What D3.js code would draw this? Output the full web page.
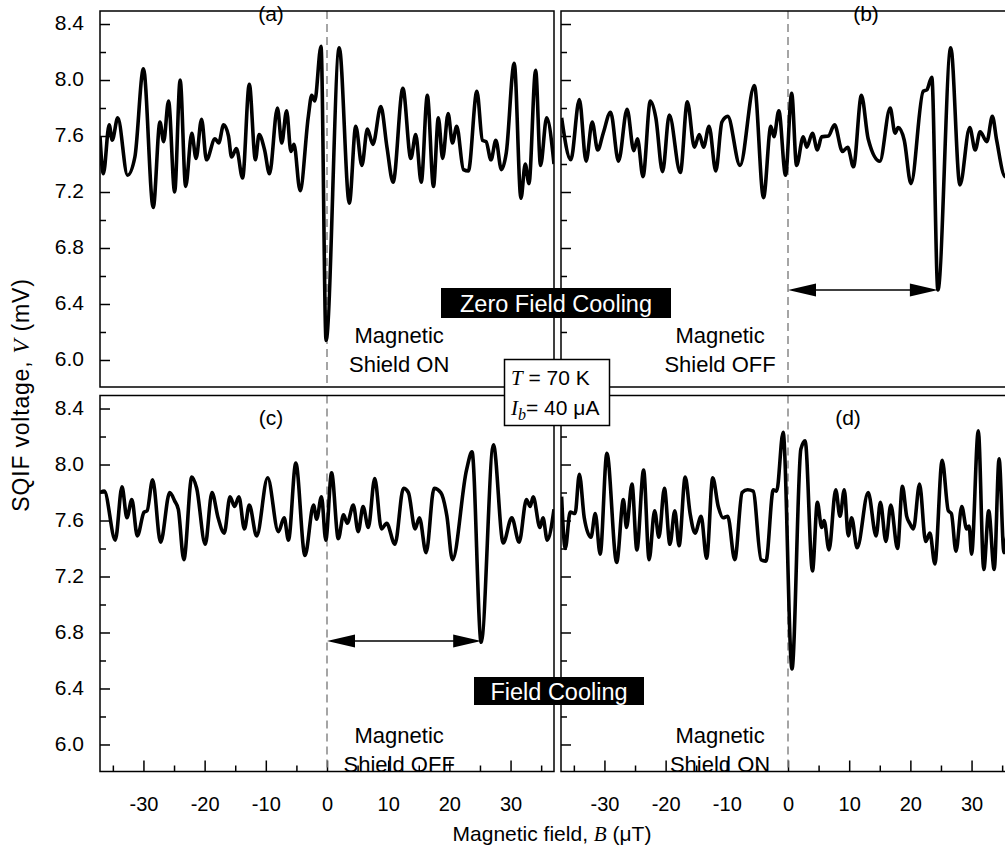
<!DOCTYPE html>
<html>
<head>
<meta charset="utf-8">
<script src="https://cdn.jsdelivr.net/npm/d3@7"></script>
<style>
body { margin: 0; background: #fff; }
text { font-family: "Liberation Sans", Arial, sans-serif; fill: #000; }
</style>
</head>
<body>
<div id="chart"></div>
<script>
// SQIF voltage traces, [B (uT), V (mV)]
var curveA = [[-37.1,7.60],[-36.55,7.33],[-35.6,7.68],[-35.1,7.57],[-34.2,7.73],[-32.6,7.32],[-31.4,7.45],[-30.0,8.08],[-28.4,7.09],
    [-27.3,7.70],[-26.7,7.56],[-25.9,7.85],[-24.9,7.20],[-24.0,8.00],[-23.1,7.24],[-22.1,7.62],[-21.4,7.44],[-20.5,7.72],[-19.7,7.43],
    [-18.3,7.58],[-17.7,7.55],[-16.9,7.68],[-16.1,7.60],[-15.6,7.45],[-14.8,7.51],[-13.8,7.30],[-12.7,7.97],[-11.7,7.43],[-11.1,7.61],
    [-10.2,7.50],[-9.4,7.33],[-8.1,7.80],[-7.4,7.55],[-6.6,7.78],[-5.9,7.49],[-5.4,7.54],[-4.4,7.21],[-3.05,7.74],[-2.5,7.89],[-2.0,7.85],
    [-0.98,8.24],[-0.15,6.14],[2.0,8.23],[3.65,7.12],[4.7,7.67],[5.7,7.39],[6.6,7.65],[7.5,7.54],[8.8,7.81],[9.8,7.52],[10.8,7.27],
    [12.4,7.94],[13.7,7.44],[14.5,7.61],[15.4,7.27],[16.4,7.89],[17.4,7.24],[18.2,7.73],[18.9,7.44],[19.8,7.76],[20.5,7.55],[21.2,7.67],
    [22.3,7.36],[23.1,7.35],[24.5,7.92],[25.4,7.57],[26.0,7.56],[26.8,7.43],[27.6,7.57],[28.5,7.36],[29.3,7.48],[30.6,8.12],[31.7,7.155],
    [32.4,7.40],[33.0,7.26],[34.1,8.07],[34.9,7.39],[35.9,7.73],[37.1,7.40]];

var curveB = [[-37.0,7.73],[-35.5,7.43],[-34.1,7.86],[-33.0,7.42],[-32.0,7.70],[-31.1,7.50],[-30.2,7.62],[-29.0,7.77],[-27.7,7.42],
    [-26.3,7.79],[-25.2,7.495],[-24.6,7.58],[-23.7,7.31],[-22.5,7.85],[-21.6,7.73],[-20.5,7.345],[-19.4,7.75],[-17.6,7.34],[-16.45,7.845],
    [-15.3,7.52],[-14.5,7.61],[-13.8,7.52],[-12.9,7.67],[-11.8,7.35],[-10.8,7.70],[-9.85,7.74],[-7.84,7.39],[-5.5,7.96],[-4.0,7.16],
    [-2.8,7.67],[-2.3,7.595],[-1.5,7.78],[-0.4,7.32],[0.6,7.905],[1.4,7.39],[2.5,7.595],[3.05,7.52],[4.0,7.62],[4.8,7.50],[5.5,7.595],
    [6.6,7.60],[7.6,7.68],[8.9,7.49],[9.75,7.52],[10.7,7.38],[12.0,7.89],[13.1,7.58],[15.0,7.42],[16.7,7.80],[17.5,7.62],[18.0,7.66],
    [19.0,7.57],[20.1,7.26],[22.1,7.92],[22.7,7.93],[23.5,8.02],[24.5,6.50],[26.6,8.23],[28.1,7.25],[29.7,7.66],[30.6,7.50],[31.4,7.63],
    [32.5,7.56],[33.4,7.74],[34.1,7.57],[35.5,7.31],[36.3,7.45],[37.1,7.60]];

var curveC = [[-37.1,7.80],[-36.4,7.81],[-34.6,7.46],[-33.5,7.84],[-32.7,7.62],[-31.9,7.75],[-31.0,7.49],[-29.9,7.66],[-29.4,7.67],
    [-28.5,7.89],[-27.2,7.445],[-25.7,7.80],[-24.9,7.74],[-24.3,7.68],[-23.4,7.32],[-22.1,7.91],[-21.3,7.83],[-19.9,7.43],[-18.8,7.80],
    [-17.8,7.62],[-16.8,7.51],[-15.85,7.77],[-15.1,7.70],[-14.4,7.77],[-13.5,7.54],[-12.7,7.71],[-11.5,7.49],[-9.7,7.905],[-7.95,7.52],
    [-7.0,7.62],[-6.3,7.46],[-5.1,8.01],[-3.6,7.35],[-2.2,7.71],[-1.7,7.61],[-0.9,7.77],[-0.2,7.46],[0.75,7.94],[1.85,7.47],[2.7,7.64],
    [3.3,7.58],[4.3,7.71],[5.1,7.52],[5.9,7.70],[6.75,7.55],[7.8,7.90],[8.9,7.54],[9.75,7.58],[11.1,7.43],[12.5,7.83],[13.3,7.80],
    [14.4,7.54],[15.1,7.62],[16.2,7.37],[17.5,7.83],[18.6,7.80],[19.6,7.63],[20.5,7.32],[22.8,7.96],[23.7,8.09],[25.2,6.73],[27.2,8.14],
    [28.8,7.44],[30.2,7.62],[31.4,7.445],[32.6,7.75],[33.2,7.70],[33.7,7.77],[34.8,7.55],[35.3,7.62],[36.0,7.46],[37.1,7.68]];

var curveD = [[-37.0,7.77],[-36.4,7.40],[-35.6,7.66],[-34.8,7.65],[-34.1,7.93],[-33.3,7.62],[-32.2,7.48],[-31.5,7.65],[-30.7,7.36],
    [-29.6,8.08],[-28.0,7.30],[-26.9,7.75],[-26.4,7.55],[-25.5,7.86],[-24.7,7.39],[-23.6,7.96],[-22.7,7.32],[-21.8,7.67],[-21.1,7.48],
    [-20.2,7.83],[-19.3,7.43],[-18.5,7.67],[-17.8,7.42],[-16.8,7.91],[-16.0,7.65],[-15.2,7.51],[-14.2,7.63],[-13.3,7.33],[-12.3,7.905],
    [-11.4,7.70],[-10.6,7.62],[-9.85,7.63],[-8.7,7.32],[-7.5,7.80],[-6.6,7.82],[-5.7,7.81],[-4.4,7.32],[-3.6,7.31],[-2.4,7.82],
    [-1.85,7.81],[-0.8,8.23],[0.65,6.54],[2.1,8.11],[2.8,8.17],[4.0,7.24],[4.8,7.73],[5.5,7.55],[5.9,7.60],[6.7,7.39],[7.8,7.82],
    [8.5,7.63],[9.2,7.82],[9.85,7.49],[10.4,7.62],[11.3,7.405],[13.1,7.80],[14.4,7.49],[15.1,7.73],[16.0,7.45],[16.8,7.71],[17.9,7.40],
    [18.7,7.845],[19.4,7.63],[19.9,7.58],[20.5,7.54],[21.5,7.86],[22.5,7.45],[23.2,7.51],[24.0,7.29],[25.2,8.03],[26.2,7.67],[26.7,7.65],
    [27.45,7.38],[28.4,7.70],[29.2,7.54],[29.6,7.56],[30.0,7.36],[31.1,8.24],[32.0,7.25],[32.8,7.67],[33.7,7.25],[34.5,8.04],[35.3,7.37],
    [36.2,7.60],[37.1,7.50]];

var panelLabels = ["(a)", "(b)", "(c)", "(d)"];
var shieldText = ["Shield ON", "Shield OFF", "Shield OFF", "Shield ON"];
var yMajor = [6.0, 6.4, 6.8, 7.2, 7.6, 8.0, 8.4];
var yMinor = [6.2, 6.6, 7.0, 7.4, 7.8, 8.2];
var xMajor = [-30, -20, -10, 0, 10, 20, 30];
var xMinor = [-35, -25, -15, -5, 5, 15, 25, 35];
// shift of the dip (uT) and the height the arrow is drawn at (mV)
var shiftB = [24.5, 6.50];
var shiftC = [25.2, 6.74];

var W = 1005, H = 850;
var svg = d3.select("#chart").append("svg").attr("width", W).attr("height", H);

var colX = [100, 561], colW = 454;
var rowY = [11, 395.5], rowH = 376;
var bDomain = [-37.1, 37.1], vDomain = [5.807, 8.493];

var panels = [
    {data: curveA, col: 0, row: 0, label: [271, 21]},
    {data: curveB, col: 1, row: 0, label: [866, 21]},
    {data: curveC, col: 0, row: 1, label: [271, 425]},
    {data: curveD, col: 1, row: 1, label: [848, 425]}
];

var sans = '"Liberation Sans", Arial, sans-serif';
var serif = '"Liberation Serif", "Times New Roman", serif';

panels.forEach(function(p, i) {
    var x0 = colX[p.col], y0 = rowY[p.row];
    var x = d3.scaleLinear().domain(bDomain).range([x0, x0 + colW]);
    var y = d3.scaleLinear().domain(vDomain).range([y0 + rowH, y0]);
    p.x = x; p.y = y;

    var g = svg.append("g");

    g.append("clipPath").attr("id", "clip" + i)
        .append("rect").attr("x", x0).attr("y", y0).attr("width", colW).attr("height", rowH);

    // left axis, ticks pointing in
    var ya = g.append("g").attr("transform", "translate(" + x0 + ",0)")
        .call(d3.axisLeft(y).tickValues(yMajor).tickSize(-10).tickPadding(16)
            .tickFormat(p.col == 0 ? d3.format(".1f") : ""));
    ya.append("g").call(d3.axisLeft(y).tickValues(yMinor).tickSize(-6).tickFormat(""));
    ya.selectAll(".domain").remove();
    ya.selectAll("line").attr("stroke", "#000").attr("stroke-width", 1.5);
    ya.selectAll("text").style("font-family", sans).style("font-size", "21px")
        .attr("dy", "0.28em").attr("fill", "#000");

    if (p.row == 1) {
        var xa = g.append("g").attr("transform", "translate(0," + (y0 + rowH) + ")")
            .call(d3.axisBottom(x).tickValues(xMajor).tickSize(-11).tickPadding(25)
                .tickFormat(function(d) { return String(d); }));
        xa.append("g").call(d3.axisBottom(x).tickValues(xMinor).tickSize(-6).tickFormat(""));
        xa.selectAll(".domain").remove();
        xa.selectAll("line").attr("stroke", "#000").attr("stroke-width", 1.5);
        xa.selectAll("text").style("font-family", sans).style("font-size", "20px").attr("fill", "#000");
    }

    // zero field marker
    g.append("line")
        .attr("x1", x(0)).attr("x2", x(0)).attr("y1", y0).attr("y2", y0 + rowH)
        .attr("stroke", "#888").attr("stroke-width", 1.5).attr("stroke-dasharray", "8,5");

    var line = d3.line()
        .x(function(d) { return x(d[0]); })
        .y(function(d) { return y(d[1]); })
        .curve(d3.curveMonotoneX);

    g.append("path")
        .datum(p.data)
        .attr("clip-path", "url(#clip" + i + ")")
        .attr("d", line)
        .attr("fill", "none")
        .attr("stroke", "#000")
        .attr("stroke-width", 3.6)
        .attr("stroke-linejoin", "round");

    g.append("rect")
        .attr("x", x0).attr("y", y0).attr("width", colW).attr("height", rowH)
        .attr("fill", "none").attr("stroke", "#000").attr("stroke-width", 1.5);

    g.append("text")
        .attr("x", p.label[0]).attr("y", p.label[1])
        .attr("text-anchor", "middle")
        .style("font-size", "21px")
        .text(panelLabels[i]);

    // "Magnetic / Shield ..." note
    var cx = p.col == 0 ? x(11.8) : x(-11.1);
    var by = y0 + (p.row == 0 ? 332 : 347);
    g.append("text").attr("x", cx).attr("y", by).attr("text-anchor", "middle")
        .style("font-size", "22px").text("Magnetic");
    g.append("text").attr("x", cx).attr("y", by + 29).attr("text-anchor", "middle")
        .style("font-size", "22px").text(shieldText[i]);
});

function arrow(p, shift) {
    var x1 = p.x(0), x2 = p.x(shift[0]), yy = p.y(shift[1]);
    var hl = 28, hw = 6.5;
    svg.append("line").attr("x1", x1 + 4).attr("x2", x2 - 4).attr("y1", yy).attr("y2", yy)
        .attr("stroke", "#000").attr("stroke-width", 1.5);
    svg.append("path")
        .attr("d", "M" + x1 + "," + yy + "L" + (x1 + hl) + "," + (yy - hw) + "L" + (x1 + hl) + "," + (yy + hw) + "Z")
        .attr("fill", "#000");
    svg.append("path")
        .attr("d", "M" + x2 + "," + yy + "L" + (x2 - hl) + "," + (yy - hw) + "L" + (x2 - hl) + "," + (yy + hw) + "Z")
        .attr("fill", "#000");
}
arrow(panels[1], shiftB);
arrow(panels[2], shiftC);

// cooling mode labels
function blackLabel(txt, x0, y0, w, h) {
    svg.append("rect").attr("x", x0).attr("y", y0).attr("width", w).attr("height", h).attr("fill", "#000");
    svg.append("text").attr("x", x0 + w / 2).attr("y", y0 + h / 2 + 8.5)
        .attr("text-anchor", "middle").style("font-size", "23.5px").style("fill", "#fff").text(txt);
}
blackLabel("Zero Field Cooling", 441, 288, 230, 30);
blackLabel("Field Cooling", 474, 677, 170, 28);

// conditions box
svg.append("rect").attr("x", 504.5).attr("y", 359.5).attr("width", 105).attr("height", 66)
    .attr("fill", "#fff").attr("stroke", "#000").attr("stroke-width", 1.5);
var t1 = svg.append("text").attr("x", 511).attr("y", 385).style("font-size", "21px");
t1.append("tspan").style("font-family", serif).style("font-style", "italic").text("T");
t1.append("tspan").text(" = 70 K");
var t2 = svg.append("text").attr("x", 511).attr("y", 415).style("font-size", "21px");
t2.append("tspan").style("font-family", serif).style("font-style", "italic").text("I");
t2.append("tspan").style("font-family", serif).style("font-style", "italic").style("font-size", "16px")
    .attr("dy", 5).text("b");
t2.append("tspan").attr("dy", -5).text("= 40 \u03bcA");

// axis titles
var yt = svg.append("text")
    .attr("transform", "translate(29,395) rotate(-90)")
    .attr("text-anchor", "middle").style("font-size", "23px").style("letter-spacing", "0.8px");
yt.append("tspan").text("SQIF voltage, ");
yt.append("tspan").style("font-family", serif).style("font-style", "italic").text("V");
yt.append("tspan").text(" (mV)");

var xt = svg.append("text")
    .attr("x", 552).attr("y", 841)
    .attr("text-anchor", "middle").style("font-size", "21px");
xt.append("tspan").text("Magnetic field, ");
xt.append("tspan").style("font-family", serif).style("font-style", "italic").text("B");
xt.append("tspan").text(" (\u03bcT)");
</script>
</body>
</html>
